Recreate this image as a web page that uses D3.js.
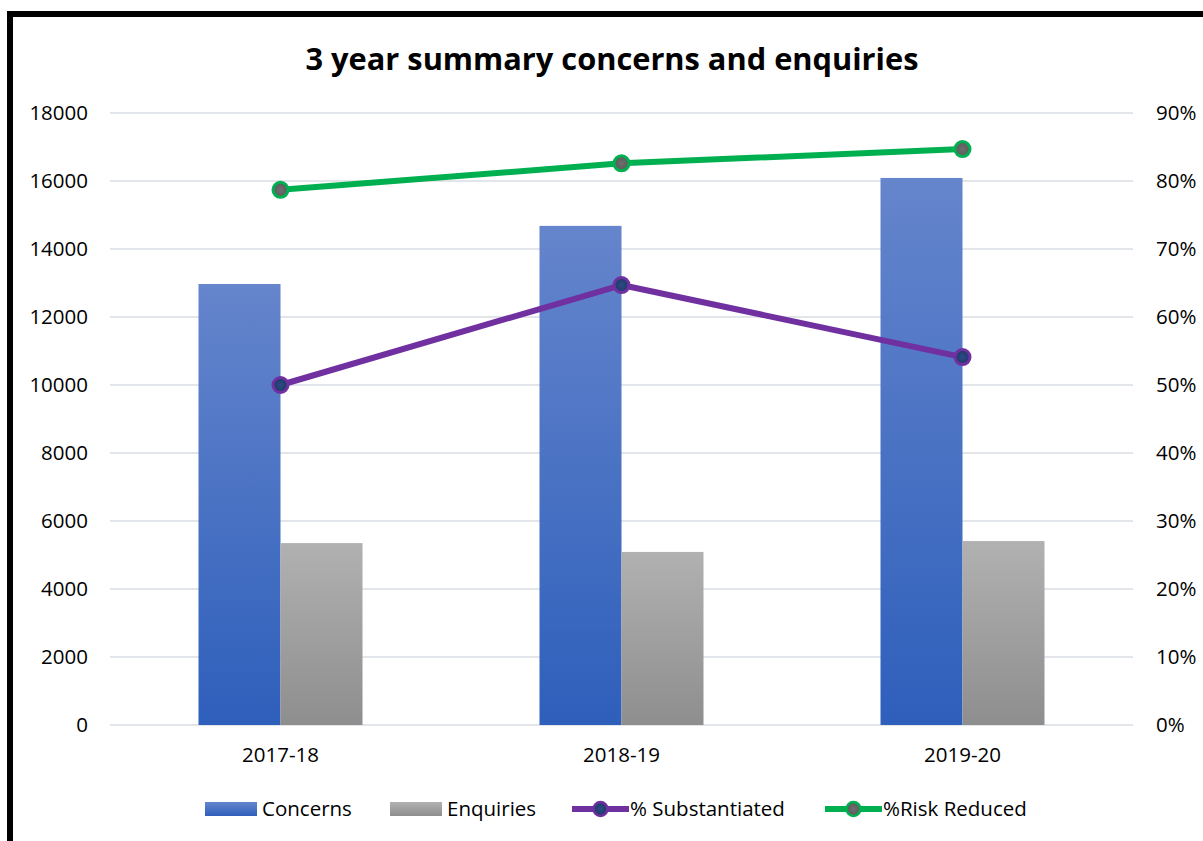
<!DOCTYPE html>
<html><head><meta charset="utf-8">
<script src="https://cdn.jsdelivr.net/npm/d3@7"></script>
<style>
html,body{margin:0;padding:0;background:#fff;}
svg{display:block;font-family:"Open Sans","Liberation Sans",sans-serif;}
</style></head><body>
<svg id="chart" width="1203" height="841"></svg>
<script>
const categories = ["2017-18", "2018-19", "2019-20"];
const concerns = [12970, 14680, 16090];
const enquiries = [5350, 5090, 5410];
const pctSubstantiated = [50.0, 64.7, 54.1];
const pctRiskReduced = [78.7, 82.6, 84.7];
const leftTicks = [0, 2000, 4000, 6000, 8000, 10000, 12000, 14000, 16000, 18000];
const rightTicks = [0, 10, 20, 30, 40, 50, 60, 70, 80, 90];
const titleText = "3 year summary concerns and enquiries";
const legendLabels = ["Concerns", "Enquiries", "% Substantiated", "%Risk Reduced"];

const svg = d3.select("#chart");
const W = 1203, H = 841;
const plot = {left: 110, right: 1133, top: 113, bottom: 725};
const FS = 20.5;

// frame
svg.append("path")
  .attr("d", `M10,${H+10} L10,14 L${W+10},14`)
  .attr("fill", "none").attr("stroke", "#000").attr("stroke-width", 6);

const defs = svg.append("defs");
const g1 = defs.append("linearGradient").attr("id", "gConcerns").attr("x1",0).attr("y1",0).attr("x2",0).attr("y2",1);
g1.append("stop").attr("offset","0%").attr("stop-color","#6585cc");
g1.append("stop").attr("offset","100%").attr("stop-color","#2e5fbb");
const g2 = defs.append("linearGradient").attr("id", "gEnq").attr("x1",0).attr("y1",0).attr("x2",0).attr("y2",1);
g2.append("stop").attr("offset","0%").attr("stop-color","#b1b1b1");
g2.append("stop").attr("offset","100%").attr("stop-color","#8e8e8e");
const g3 = defs.append("radialGradient").attr("id", "gNavy");
g3.append("stop").attr("offset","0%").attr("stop-color","#2c4c86");
g3.append("stop").attr("offset","100%").attr("stop-color","#1e3766");
const g4 = defs.append("radialGradient").attr("id", "gGray");
g4.append("stop").attr("offset","0%").attr("stop-color","#6e6e6e");
g4.append("stop").attr("offset","100%").attr("stop-color","#5a5a5a");

const x = d3.scaleBand().domain(categories).range([plot.left, plot.right]).paddingInner(0).paddingOuter(0);
const yL = d3.scaleLinear().domain([0, 18000]).range([plot.bottom, plot.top]);
const yR = d3.scaleLinear().domain([0, 90]).range([plot.bottom, plot.top]);

// gridlines
svg.append("g").selectAll("line").data(leftTicks).join("line")
  .attr("x1", plot.left).attr("x2", plot.right)
  .attr("y1", d => yL(d)).attr("y2", d => yL(d))
  .attr("stroke", "#d9dde3").attr("stroke-width", 1.5);

// left axis
const axL = svg.append("g").attr("transform", `translate(${plot.left},0)`)
  .call(d3.axisLeft(yL).tickValues(leftTicks).tickSize(0).tickPadding(22).tickFormat(d3.format("d")));
axL.select(".domain").remove();
axL.selectAll("text").attr("font-size", FS).attr("fill", "#000").attr("font-family", "Open Sans");

// right axis
const axR = svg.append("g").attr("transform", `translate(${plot.right},0)`)
  .call(d3.axisRight(yR).tickValues(rightTicks).tickSize(0).tickPadding(23).tickFormat(d => d + "%"));
axR.select(".domain").remove();
axR.selectAll("text").attr("font-size", FS).attr("fill", "#000").attr("font-family", "Open Sans");

// bottom axis
const axB = svg.append("g").attr("transform", `translate(0,${plot.bottom})`)
  .call(d3.axisBottom(x).tickSize(0).tickPadding(22));
axB.select(".domain").remove();
axB.selectAll("text").attr("font-size", FS).attr("fill", "#000").attr("font-family", "Open Sans");

// bars
const bw = 82;
svg.append("g").selectAll("rect").data(categories).join("rect")
  .attr("x", d => x(d) + x.bandwidth()/2 - bw)
  .attr("width", bw)
  .attr("y", (d,i) => yL(concerns[i]))
  .attr("height", (d,i) => yL(0) - yL(concerns[i]))
  .attr("fill", "url(#gConcerns)");
svg.append("g").selectAll("rect").data(categories).join("rect")
  .attr("x", d => x(d) + x.bandwidth()/2)
  .attr("width", bw)
  .attr("y", (d,i) => yL(enquiries[i]))
  .attr("height", (d,i) => yL(0) - yL(enquiries[i]))
  .attr("fill", "url(#gEnq)");

// lines
function drawLine(vals, color, markerFill) {
  const line = d3.line().x((d,i) => x(categories[i]) + x.bandwidth()/2).y(d => yR(d));
  svg.append("path").datum(vals).attr("d", line)
    .attr("fill", "none").attr("stroke", color).attr("stroke-width", 6).attr("stroke-linejoin", "round");
  svg.append("g").selectAll("circle").data(vals).join("circle")
    .attr("cx", (d,i) => x(categories[i]) + x.bandwidth()/2)
    .attr("cy", d => yR(d))
    .attr("r", 7.5)
    .attr("fill", markerFill).attr("stroke", color).attr("stroke-width", 3);
}
drawLine(pctSubstantiated, "#7030a0", "url(#gNavy)");
drawLine(pctRiskReduced, "#00b050", "url(#gGray)");

// title
const title = svg.append("text").attr("x", 612).attr("y", 70).attr("text-anchor", "middle")
  .attr("font-family", "Open Sans").attr("font-weight", "bold").attr("font-size", 30).attr("fill", "#000")
  .text(titleText);
const tl = title.node().getComputedTextLength();
title.attr("font-size", 30 * 613 / tl);

// legend
const ly = 809;
const leg = svg.append("g");
const items = [
  {type: "rect", fill: "url(#gConcerns)", x0: 205, tx: 262},
  {type: "rect", fill: "url(#gEnq)", x0: 390, tx: 447},
  {type: "line", color: "#7030a0", mfill: "url(#gNavy)", x0: 572, tx: 630},
  {type: "line", color: "#00b050", mfill: "url(#gGray)", x0: 825, tx: 883}
];
items.forEach((it, i) => {
  if (it.type === "rect") {
    leg.append("rect").attr("x", it.x0).attr("y", ly - 7).attr("width", 52).attr("height", 14).attr("fill", it.fill);
  } else {
    leg.append("line").attr("x1", it.x0).attr("x2", it.x0 + 57).attr("y1", ly).attr("y2", ly)
      .attr("stroke", it.color).attr("stroke-width", 6);
    leg.append("circle").attr("cx", it.x0 + 28.5).attr("cy", ly).attr("r", 7)
      .attr("fill", it.mfill).attr("stroke", it.color).attr("stroke-width", 2.5);
  }
  leg.append("text").attr("x", it.tx).attr("y", ly).attr("dy", "0.35em")
    .attr("font-size", FS).attr("font-family", "Open Sans").attr("fill", "#000")
    .text(legendLabels[i]);
});
</script>
</body></html>
